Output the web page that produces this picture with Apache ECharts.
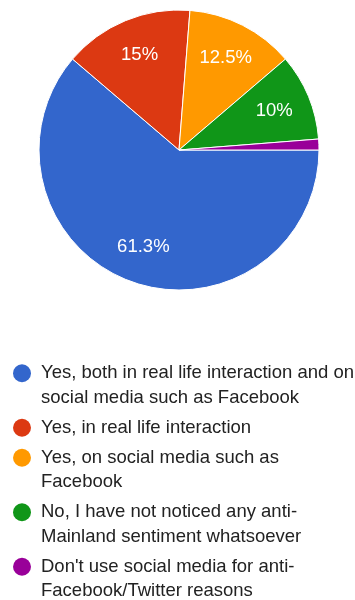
<!DOCTYPE html>
<html>
<head>
<meta charset="utf-8">
<script src="https://cdn.jsdelivr.net/npm/echarts@6/dist/echarts.min.js"></script>
<style>
  html, body { margin: 0; padding: 0; background: #fff; }
  #chart { width: 355px; height: 600px; }
</style>
</head>
<body>
<div id="chart"></div>
<script>
// Survey answers (legend text, with the line breaks it is drawn with)
const categories = [
  'Yes, both in real life interaction and on\nsocial media such as Facebook',
  'Yes, in real life interaction',
  'Yes, on social media such as\nFacebook',
  'No, I have not noticed any anti-\nMainland sentiment whatsoever',
  "Don't use social media for anti-\nFacebook/Twitter reasons"
];
// Number of responses for each answer
const responses = [49, 12, 10, 8, 1];
const colors = ['#3366cc', '#dc3912', '#ff9900', '#109618', '#990099'];

const FONT = '"Liberation Sans", Arial, sans-serif';

const pieData = categories.map((name, i) => ({ name: name, value: responses[i] }));

// Rich styles: one coloured dot per answer, plus spacers
const rich = {
  g: { width: 10, lineHeight: 24.5 },
  p: { width: 28, lineHeight: 24.5 },
  t: { fontSize: 18.5, color: '#222', fontFamily: FONT, lineHeight: 24.5 }
};
colors.forEach((c, i) => {
  rich['d' + i] = { width: 18, height: 18, borderRadius: 9, backgroundColor: c, lineHeight: 24.5 };
});

const chart = echarts.init(document.getElementById('chart'), null, { renderer: 'canvas' });
chart.setOption({
  animation: false,
  color: colors,
  legend: {
    orient: 'vertical',
    left: 7,
    top: 361,
    height: 280,
    padding: 0,
    itemWidth: 0,
    itemHeight: 0,
    itemGap: 5.5,
    selectedMode: false,
    data: categories,
    textStyle: { fontSize: 18.5, fontFamily: FONT, color: '#222', lineHeight: 24.5, rich: rich },
    formatter: function (name) {
      const i = categories.indexOf(name);
      return name.split('\n').map((line, j) =>
        (j === 0 ? '{d' + i + '|\u00a0}{g|\u00a0}' : '{p|\u00a0}') + '{t|' + line + '}'
      ).join('\n');
    }
  },
  series: [
    {
      type: 'pie',
      center: [179, 150],
      radius: [0, 140],
      startAngle: 0,
      clockwise: true,
      silent: true,
      data: pieData,
      itemStyle: { borderColor: '#fff', borderWidth: 1 },
      label: { show: false },
      labelLine: { show: false }
    },
    {
      // Transparent ring that carries the percentage labels at 100px from the centre
      type: 'pie',
      center: [179, 150],
      radius: [60, 140],
      startAngle: 0,
      clockwise: true,
      silent: true,
      minShowLabelAngle: 10,
      data: pieData,
      itemStyle: { color: 'rgba(0,0,0,0)', borderWidth: 0 },
      label: {
        show: true,
        position: 'inside',
        fontSize: 18.5,
        fontFamily: FONT,
        color: '#fff',
        formatter: p => parseFloat(p.percent.toFixed(1)) + '%'
      },
      labelLine: { show: false }
    }
  ]
});
</script>
</body>
</html>
